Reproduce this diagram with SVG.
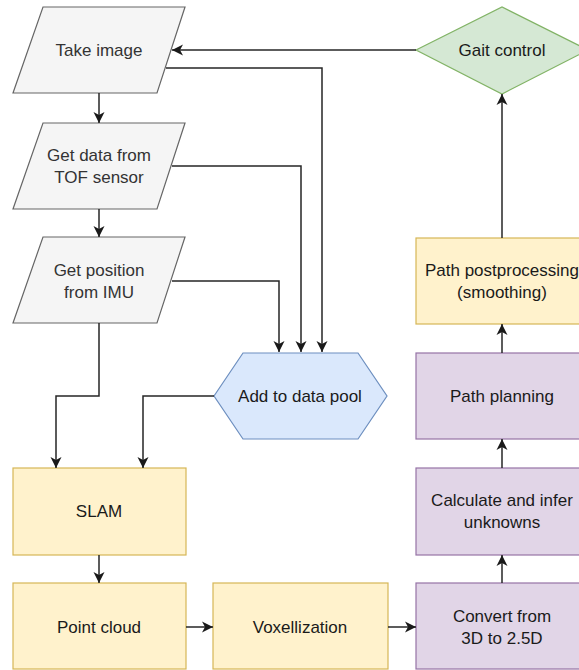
<svg xmlns="http://www.w3.org/2000/svg" width="579" height="670" viewBox="0 0 579 670">
  <defs>
    <marker id="arr" viewBox="0 0 11 12" refX="11" refY="6" markerWidth="11" markerHeight="12" markerUnits="userSpaceOnUse" orient="auto">
      <path d="M0,0.5 L11,6 L0,11.5 L3,6 Z" fill="#1a1a1a"/>
    </marker>
  </defs>
  <style>
    .t { font-family: "Liberation Sans", Arial, sans-serif; font-size: 17px; text-anchor: middle; dominant-baseline: central; fill: #1a1a1a; }
    .g { fill: #333333; }
    .io { fill: #f5f5f5; stroke: #666666; stroke-width: 1.2; }
    .y { fill: #fff2cc; stroke: #d6b656; stroke-width: 1.2; }
    .b { fill: #dae8fc; stroke: #6c8ebf; stroke-width: 1.2; }
    .gr { fill: #d5e8d4; stroke: #82b366; stroke-width: 1.2; }
    .p { fill: #e1d5e7; stroke: #9673a6; stroke-width: 1.2; }
    .c { fill: none; stroke: #262626; stroke-width: 1.5; marker-end: url(#arr); }
  </style>
  <rect width="579" height="670" fill="#ffffff"/>

  <g id="take-image">
    <polygon class="io" points="43,7 185,7 157,93 13,93"/>
    <text class="t g" x="99" y="50">Take image</text>
  </g>
  <g id="tof">
    <polygon class="io" points="43,123 185,123 157,209 13,209"/>
    <text class="t g" x="99" y="155">Get data from</text>
    <text class="t g" x="99" y="177">TOF sensor</text>
  </g>
  <g id="imu">
    <polygon class="io" points="43,237 185,237 157,323 13,323"/>
    <text class="t g" x="99" y="270">Get position</text>
    <text class="t g" x="99" y="292">from IMU</text>
  </g>
  <g id="data-pool">
    <polygon class="b" points="214,396 243,353 358,353 387,396 358,439 243,439"/>
    <text class="t" x="300" y="396">Add to data pool</text>
  </g>
  <g id="gait">
    <polygon class="gr" points="416,50 502,7 588,50 502,94"/>
    <text class="t" x="502" y="50">Gait control</text>
  </g>
  <g id="postprocessing">
    <rect class="y" x="416" y="238" width="172" height="86"/>
    <text class="t" x="502" y="270">Path postprocessing</text>
    <text class="t" x="502" y="292">(smoothing)</text>
  </g>
  <g id="path-planning">
    <rect class="p" x="416" y="353" width="172" height="86"/>
    <text class="t" x="502" y="396">Path planning</text>
  </g>
  <g id="calculate">
    <rect class="p" x="416" y="468" width="172" height="87"/>
    <text class="t" x="502" y="500">Calculate and infer</text>
    <text class="t" x="502" y="522">unknowns</text>
  </g>
  <g id="convert">
    <rect class="p" x="416" y="583" width="172" height="86"/>
    <text class="t" x="502" y="616">Convert from</text>
    <text class="t" x="502" y="638">3D to 2.5D</text>
  </g>
  <g id="slam">
    <rect class="y" x="13" y="468" width="173" height="87"/>
    <text class="t" x="99" y="511">SLAM</text>
  </g>
  <g id="point-cloud">
    <rect class="y" x="13" y="583" width="173" height="86"/>
    <text class="t" x="99" y="627">Point cloud</text>
  </g>
  <g id="voxel">
    <rect class="y" x="213" y="583" width="175" height="86"/>
    <text class="t" x="300" y="627">Voxellization</text>
  </g>

  <g id="connectors">
    <path class="c" d="M416,50 L172,50"/>
    <path class="c" d="M99,93 L99,123"/>
    <path class="c" d="M99,209 L99,237"/>
    <path class="c" d="M166,68 L322,68 L322,352"/>
    <path class="c" d="M172,166 L301,166 L301,352"/>
    <path class="c" d="M172,281 L279,281 L279,352"/>
    <path class="c" d="M99,323 L99,396 L56,396 L56,468"/>
    <path class="c" d="M214,396 L143,396 L143,468"/>
    <path class="c" d="M99,555 L99,583"/>
    <path class="c" d="M186,627 L213,627"/>
    <path class="c" d="M388,627 L416,627"/>
    <path class="c" d="M502,583 L502,555"/>
    <path class="c" d="M502,468 L502,439"/>
    <path class="c" d="M502,353 L502,324"/>
    <path class="c" d="M502,238 L502,94"/>
  </g>
</svg>
